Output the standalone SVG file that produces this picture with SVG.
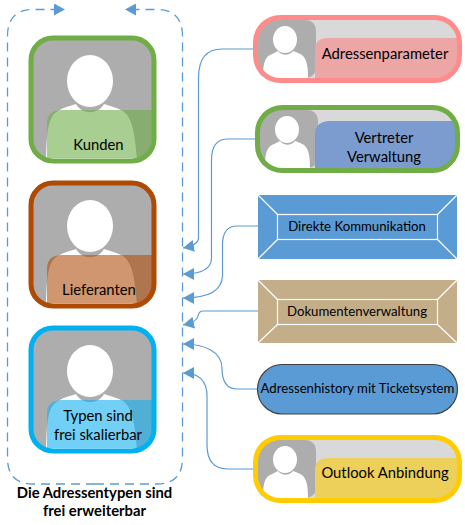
<svg xmlns="http://www.w3.org/2000/svg" xmlns:xlink="http://www.w3.org/1999/xlink" width="465" height="525" viewBox="0 0 465 525">
<style>
text{font-family:"Lato","Open Sans","Liberation Sans",sans-serif;fill:#000;text-anchor:middle;font-size:14.8px}
.b{font-weight:700;font-size:14.8px}
.s{font-size:13.2px}
.c{fill:none;stroke:#5b9bd5;stroke-width:1.2}
.d{stroke-dasharray:9 6;stroke-width:1.3}
.w{fill:none;stroke:#fff;stroke-width:1.2}
.grey{fill:#adadad}
.lg{fill:#d9d9d9}
.wh{fill:#fff}
</style>
<defs>
<marker id="a" markerUnits="userSpaceOnUse" markerWidth="12" markerHeight="12" refX="11" refY="6" orient="auto"><path d="M0,0L11,6L0,12z" fill="#5b9bd5"/></marker>
<clipPath id="big"><rect x="0" y="0" width="120" height="120" rx="20"/></clipPath>
<g id="bigP">
<rect width="120" height="120" rx="20" class="grey"/>
<g clip-path="url(#big)">
<ellipse cx="58" cy="42" rx="23" ry="26" class="wh"/>
<path d="M14,120C15,95 15,78 26,72C32,68 38,67 44,65C50,76 66,76 72,65C78,67 86,69 91,72C102,80 103,100 105,120z" class="wh"/>
</g>
</g>
<g id="smallP">
<rect width="58" height="58" rx="10" class="grey"/>
<ellipse cx="27" cy="19.500" rx="12" ry="13.500" class="wh"/>
<path d="M5,58C5,46 6,38 12,35C16,33 18,32 20,31C24,36 31,36 35,31C38,32 41,33 44,35C49,39 50,47 50,58z" class="wh"/>
</g>
</defs>
<g id="connectors">
<path class="c d" d="M95,484H33Q7.500,484 7.500,458V36Q7.500,9.500 33,9.500H65" marker-end="url(#a)"/>
<path class="c d" d="M95,484H157Q182.500,484 182.500,458V36Q182.500,9.500 157,9.500H125" marker-end="url(#a)"/>
<path class="c" d="M253,49H222Q198.500,49 198.500,78V238Q198.500,245 183,248" marker-end="url(#a)"/>
<path class="c" d="M255,139H228Q211.500,139 211.500,160V258Q211.500,274 183,274" marker-end="url(#a)"/>
<path class="c" d="M258,226H237Q222.500,226 222.500,245V275Q222.500,298 183,298" marker-end="url(#a)"/>
<path class="c" d="M258,311H203Q199,311 198,316Q197,322 183,325" marker-end="url(#a)"/>
<path class="c" d="M257,389H237Q222,389 222,368C222,352 205,344 183,344" marker-end="url(#a)"/>
<path class="c" d="M253,469H228Q207,469 207,445V396Q207,373 183,373" marker-end="url(#a)"/>
</g>
<g id="kunden">
<use xlink:href="#bigP" transform="translate(32,39)"/>
<path d="M47,158V124Q47,110 62,110H152V145Q152,158 138,158z" fill="#70ad47" fill-opacity=".6"/>
<rect x="31" y="38" width="123" height="123" rx="22" fill="none" stroke="#70ad47" stroke-width="5"/>
<text x="98.500" y="150">Kunden</text>
</g>
<g id="lieferanten">
<use xlink:href="#bigP" transform="translate(32,184)"/>
<path d="M47,303V269Q47,255 62,255H152V290Q152,303 138,303z" fill="#b0500f" fill-opacity=".6"/>
<rect x="31" y="183" width="123" height="123" rx="22" fill="none" stroke="#ae4a04" stroke-width="5"/>
<text x="99" y="295">Lieferanten</text>
</g>
<g id="typen">
<use xlink:href="#bigP" transform="translate(32,329)"/>
<path d="M47,448V414Q47,400 62,400H152V435Q152,448 138,448z" fill="#14b0f0" fill-opacity=".6"/>
<rect x="31" y="328" width="123" height="123" rx="22" fill="none" stroke="#00b0f0" stroke-width="5"/>
<text x="98"><tspan x="98" y="421">Typen sind</tspan><tspan x="98" y="440">frei skalierbar</tspan></text>
</g>
<text class="b" x="94.500" y="498">Die Adressentypen sind</text>
<text class="b" x="94.500" y="516">frei erweiterbar</text>
<g id="adressenparameter">
<rect x="255.500" y="17.500" width="204" height="63" rx="25" class="lg"/>
<use xlink:href="#smallP" transform="translate(258,20)"/>
<path d="M315,78V50Q315,38 328,38H458V58Q458,78 438,78z" fill="#eda6a6"/>
<rect x="255.500" y="17.500" width="204" height="63" rx="25" fill="none" stroke="#ff8b8b" stroke-width="5"/>
<text x="385" y="58.500">Adressenparameter</text>
</g>
<g id="vertreter">
<rect x="257.500" y="107.500" width="200" height="63" rx="25" class="lg"/>
<use xlink:href="#smallP" transform="translate(260,110)"/>
<path d="M315,168V135Q315,121 330,121H456V148Q456,168 436,168z" fill="#7c9bcf"/>
<rect x="257.500" y="107.500" width="200" height="63" rx="25" fill="none" stroke="#70ad47" stroke-width="5"/>
<text x="384"><tspan x="384" y="143">Vertreter</tspan><tspan x="384" y="162">Verwaltung</tspan></text>
</g>
<g id="direkte">
<rect x="258" y="195" width="199" height="64" fill="#5b9bd5"/>
<rect x="277.500" y="214.500" width="160" height="25" class="w"/>
<path class="w" d="M258,195L277.500,214.500M457,195L437.500,214.500M258,259L277.500,239.500M457,259L437.500,239.500"/>
<text class="s" x="357" y="231">Direkte Kommunikation</text>
</g>
<g id="dokumente">
<rect x="258" y="280" width="199" height="63" fill="#c4ae8a"/>
<rect x="277.500" y="299.500" width="160" height="25" class="w"/>
<path class="w" d="M258,280L277.500,299.500M457,280L437.500,299.500M258,343L277.500,324.500M457,343L437.500,324.500"/>
<text class="s" x="357" y="316">Dokumentenverwaltung</text>
</g>
<g id="history">
<rect x="257.500" y="364.500" width="200" height="49.500" rx="24.700" fill="#5b9bd5" stroke="#404040" stroke-width="1.200"/>
<text class="s" x="357.500" y="393">Adressenhistory mit Ticketsystem</text>
</g>
<g id="outlook">
<rect x="255.500" y="437.500" width="204" height="63" rx="25" class="lg"/>
<use xlink:href="#smallP" transform="translate(258,440)"/>
<path d="M315,498V470Q315,458 328,458H458V478Q458,498 438,498z" fill="#ecd05a"/>
<rect x="255.500" y="437.500" width="204" height="63" rx="25" fill="none" stroke="#ffcc00" stroke-width="5"/>
<text x="385" y="478">Outlook Anbindung</text>
</g>
</svg>
